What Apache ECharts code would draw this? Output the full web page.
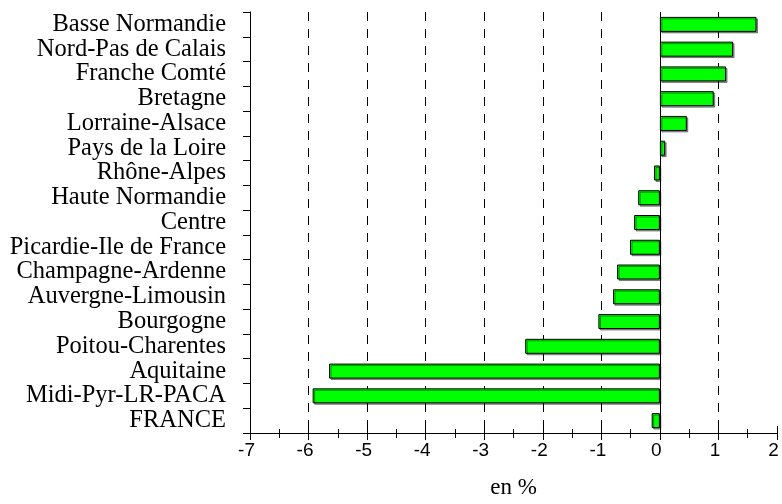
<!DOCTYPE html>
<html>
<head>
<meta charset="utf-8">
<script src="https://cdn.jsdelivr.net/npm/echarts@6/dist/echarts.min.js"></script>
<style>
html,body{margin:0;padding:0;background:#fff;}
#c{width:782px;height:504px;}
</style>
</head>
<body>
<div id="c"></div>
<script>
const categories = ["Basse Normandie","Nord-Pas de Calais","Franche Comté","Bretagne","Lorraine-Alsace","Pays de la Loire","Rhône-Alpes","Haute Normandie","Centre","Picardie-Ile de France","Champagne-Ardenne","Auvergne-Limousin","Bourgogne","Poitou-Charentes","Aquitaine","Midi-Pyr-LR-PACA","FRANCE"];
const values = [1.65, 1.25, 1.13, 0.92, 0.46, 0.09, -0.10, -0.37, -0.44, -0.51, -0.73, -0.80, -1.05, -2.30, -5.65, -5.93, -0.14];
const xMin = -7, xMax = 2, xStep = 1;
const axisName = "en %";

const chart = echarts.init(document.getElementById('c'), null, {renderer:'canvas'});
const baseX = {
  type:'value', min:xMin, max:xMax, interval:xStep, position:'bottom'
};
chart.setOption({
  animation:false,
  grid:{left:250, right:5, top:12, bottom:67, containLabel:false},
  xAxis:[
    Object.assign({}, baseX, {
      name:axisName, nameLocation:'middle', nameGap:43,
      nameTextStyle:{fontFamily:'Liberation Serif', fontSize:23, color:'#000'},
      axisLine:{show:true, onZero:false, lineStyle:{color:'#000', width:1}},
      axisTick:{show:true, length:7, lineStyle:{color:'#000'}},
      minorTick:{show:true, splitNumber:2, length:5, lineStyle:{color:'#000'}},
      axisLabel:{fontFamily:'Liberation Sans', fontSize:19, color:'#000', margin:8, padding:[0,7,0,0]},
      splitLine:{show:true, showMinLine:false, showMaxLine:false, lineStyle:{color:'#000', type:[9,8], width:1}}
    }),
    Object.assign({}, baseX, {
      axisLine:{show:false, onZero:false},
      axisTick:{show:true, inside:true, length:7, lineStyle:{color:'#000'}},
      minorTick:{show:true, splitNumber:2, length:4, lineStyle:{color:'#000'}},
      axisLabel:{show:false},
      splitLine:{show:false}
    })
  ],
  yAxis:{
    type:'category', data:categories, inverse:true,
    axisLine:{show:true, onZero:false, lineStyle:{color:'#000', width:1}},
    axisTick:{show:true, length:7, lineStyle:{color:'#000'}},
    axisLabel:{interval:0, fontFamily:'Liberation Serif', fontSize:24.5, color:'#000', margin:24},
    splitLine:{show:false}
  },
  series:[{
    type:'bar', data:values, barWidth:15, xAxisIndex:0,
    itemStyle:{color:'#00ff00', borderColor:'#000', borderWidth:1,
      shadowColor:'rgba(0,0,0,0.4)', shadowOffsetX:1.5, shadowOffsetY:1.5, shadowBlur:0},
    markLine:{
      silent:true, symbol:'none', label:{show:false},
      lineStyle:{color:'#000', type:'solid', width:1},
      data:[{xAxis:0}]
    }
  }]
});
</script>
</body>
</html>
